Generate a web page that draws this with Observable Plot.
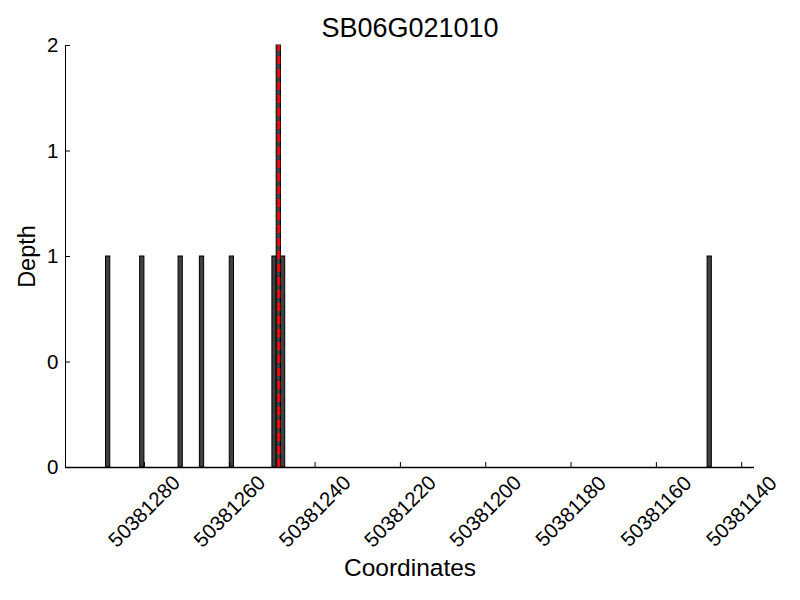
<!DOCTYPE html>
<html><head><meta charset="utf-8">
<script src="https://cdn.jsdelivr.net/npm/d3@7"></script>
<script src="https://cdn.jsdelivr.net/npm/@observablehq/plot@0.6"></script>
<style>body{margin:0;background:#fff;} #chart{width:800px;height:600px;}</style>
</head><body><div id="chart"></div>
<script>
const title = "SB06G021010";
const positions = [50381288, 50381280, 50381271, 50381266, 50381259, 50381249, 50381248, 50381247, 50381147];
const depths = [1, 1, 1, 1, 1, 1, 2, 1, 1];
const barWidth = 1;
const markerPos = 50381248.5;
const xDomain = [50381298.5, 50381137];
const yDomain = [0, 2];
const xTicks = [50381280, 50381260, 50381240, 50381220, 50381200, 50381180, 50381160, 50381140];
const yTicks = [0, 0.5, 1, 1.5, 2];
const yTickLabels = ["0", "0", "1", "1", "2"];
const xLabel = "Coordinates";
const yLabel = "Depth";

const W = 800, H = 600, mT = 45, mB = 133, mL = 65, mR = 46;
const tickLen = 5;
const bars = positions.map((p, i) => ({x1: p, x2: p + barWidth, y: depths[i]}));
const font = "'Liberation Sans', Arial, Helvetica, sans-serif";

const chart = Plot.plot({
  width: W, height: H,
  marginTop: mT, marginBottom: mB, marginLeft: mL, marginRight: mR,
  style: {fontFamily: font, background: "#fff", color: "#000", overflow: "visible"},
  x: {domain: xDomain, axis: null},
  y: {domain: yDomain, axis: null},
  marks: [
    Plot.rectY(bars, {x1: "x1", x2: "x2", y1: 0, y2: "y", fill: "#404040", stroke: "#000", strokeWidth: 1}),
    Plot.ruleX([markerPos], {y1: yDomain[0], y2: yDomain[1], stroke: "red", strokeWidth: 3, strokeDasharray: "8,5"}),
    Plot.ruleY([yDomain[0]], {stroke: "#000", strokeWidth: 1.5}),
    Plot.ruleX([xDomain[0]], {stroke: "#000", strokeWidth: 1}),
    Plot.tickX(xTicks, {x: d => d, insetTop: (H - mT - mB) - tickLen, stroke: "#000"}),
    Plot.tickY(yTicks, {y: d => d, insetRight: (W - mL - mR) - tickLen, stroke: "#000"}),
    Plot.text(xTicks, {x: d => d, text: d => String(d), frameAnchor: "bottom", lineAnchor: "middle", textAnchor: "middle", dy: 44, rotate: -45, fontSize: 20.5, fill: "#000"}),
    Plot.text(yTicks, {y: d => d, text: (d, i) => yTickLabels[i], frameAnchor: "left", lineAnchor: "middle", dx: -7, textAnchor: "end", fontSize: 20.5, fill: "#000"}),
    Plot.text([title], {text: d => d, frameAnchor: "top", lineAnchor: "middle", textAnchor: "middle", dy: -17, fontSize: 27, fill: "#000"}),
    Plot.text([yLabel], {text: d => d, frameAnchor: "left", lineAnchor: "middle", textAnchor: "middle", dx: -38, rotate: -90, fontSize: 23.5, fill: "#000"}),
    Plot.text([xLabel], {text: d => d, frameAnchor: "bottom", lineAnchor: "middle", textAnchor: "middle", dy: 101, fontSize: 24.5, fill: "#000"})
  ]
});
document.getElementById("chart").appendChild(chart);
</script>
</body></html>
